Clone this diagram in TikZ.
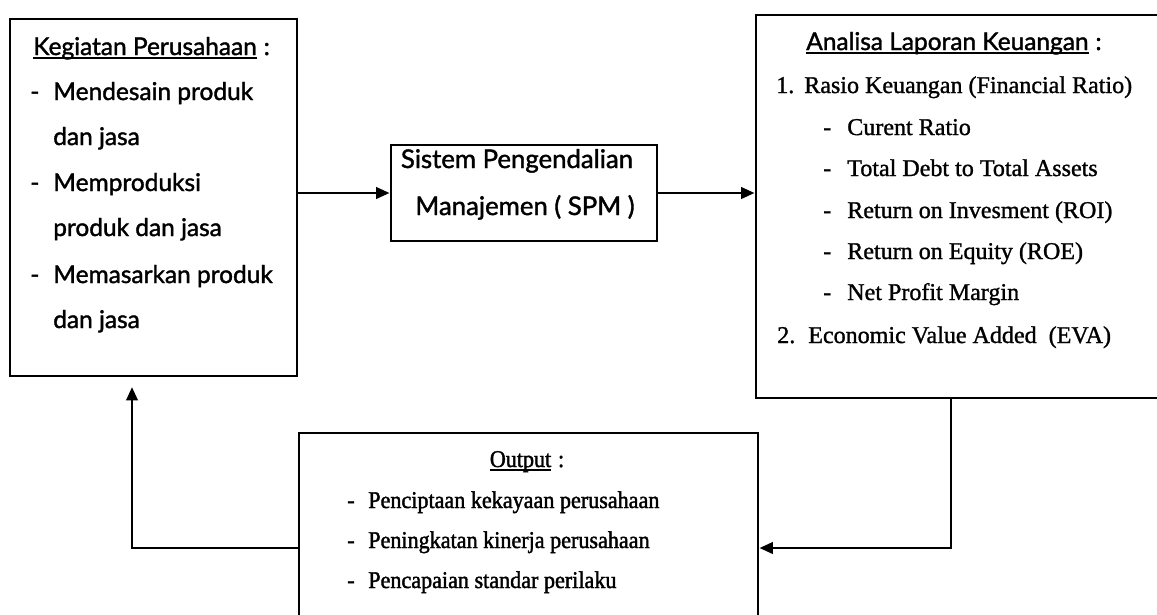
\documentclass[tikz,border=0pt]{standalone}
\usepackage{fontspec}
\setmainfont{Liberation Serif}
\newfontfamily\optfont[FakeBold=1.5]{Lato}
\newfontfamily\tfont[FakeBold=1.2]{Liberation Serif}
\newfontfamily\cfont[FakeBold=1.6,FakeStretch=0.92]{Liberation Serif}
\usetikzlibrary{arrows.meta,fit}
\newlength\px \setlength\px{0.71131pt}
\newcommand\myul[1]{\setbox0\hbox{#1}\rlap{\rule[-0.16em]{\wd0}{0.07em}}\box0\hspace{0.28em}}
\newcommand\dsh[1]{\makebox[#1\px][l]{-}}
\begin{document}
\begin{tikzpicture}[x=0.025cm,y=-0.025cm,
  box/.style={draw, line width=2pt, inner sep=0pt},
  txt/.style={inner sep=0pt, anchor=base west},
  ctr/.style={inner sep=0pt, anchor=base},
  ofnt/.style={font=\optfont\fontsize{17.4pt}{21pt}\selectfont},
  mfnt/.style={font=\optfont\fontsize{18.3pt}{22pt}\selectfont},
  tfnt/.style={font=\tfont\fontsize{17.1pt}{20pt}\selectfont},
  cfnt/.style={font=\cfont\fontsize{17.1pt}{20pt}\selectfont},
  conn/.style={line width=2pt},
  arr/.style={conn, -{Triangle[length=9.5pt,width=8pt]}}]
\useasboundingbox (0,0) rectangle (1157,614);
\clip (0,0) rectangle (1157,614);
\fill[white] (0,0) rectangle (1157,614);
% boxes
\node[box, fit={(10,19)(297,376)}] (lb) {};
\node[box, fit={(391,145)(657,241)}] (mb) {};
\node[box, fit={(756,15)(1190,398)}] (rb) {};
\node[box, fit={(299,433)(758,650)}] (bb) {};
% left box text
\node[txt, ofnt] (lh) at (33,55) {\myul{Kegiatan Perusahaan}:};
\node[txt, ofnt] (l1) at (30,100) {\dsh{23}Mendesain produk};
\node[txt, ofnt] (l2) at (53,145) {dan jasa};
\node[txt, ofnt] (l3) at (30,191) {\dsh{23}Memproduksi};
\node[txt, ofnt] (l4) at (53,236) {produk dan jasa};
\node[txt, ofnt] (l5) at (30,283) {\dsh{23}Memasarkan produk};
\node[txt, ofnt] (l6) at (53,328) {dan jasa};
% middle box text
\node[ctr, mfnt] (m1) at (517,168) {Sistem Pengendalian};
\node[ctr, mfnt] (m2) at (525,215) {Manajemen ( SPM )};
% right box text
\node[txt, ofnt] (rh) at (806,50) {\myul{Analisa Laporan Keuangan}:};
\node[txt, tfnt] (r1) at (776,93) {\makebox[28\px][l]{1.}Rasio Keuangan (Financial Ratio)};
\node[txt, tfnt] (r2) at (823,135) {\dsh{24}Curent Ratio};
\node[txt, tfnt] (r3) at (823,176) {\dsh{24}Total Debt to Total Assets};
\node[txt, tfnt] (r4) at (823,218) {\dsh{24}Return on Invesment (ROI)};
\node[txt, tfnt] (r5) at (823,259) {\dsh{24}Return on Equity (ROE)};
\node[txt, tfnt] (r6) at (823,300) {\dsh{24}Net Profit Margin};
\node[txt, tfnt] (r7) at (777,343) {\makebox[31\px][l]{2.}Economic Value Added\ \ (EVA)};
% bottom box text
\node[ctr, cfnt] (bh) at (527,467) {\myul{Output}:};
\node[txt, cfnt] (b1) at (347,508) {\dsh{21}Penciptaan kekayaan perusahaan};
\node[txt, cfnt] (b2) at (347,548) {\dsh{21}Peningkatan kinerja perusahaan};
\node[txt, cfnt] (b3) at (347,588) {\dsh{21}Pencapaian standar perilaku};
% connectors
\coordinate (j1) at (951,548);
\coordinate (j2) at (132,548);
\coordinate (j3) at (132,387);
\draw[arr] (lb.east |- mb.west) -- (mb.west);
\draw[arr] (mb.east) -- (rb.west |- mb.east);
\draw[arr] (rb.south -| j1) -- (j1) -- (bb.east |- j1);
\draw[arr] (bb.west |- j2) -- (j2) -- (j3);
\end{tikzpicture}
\end{document}
